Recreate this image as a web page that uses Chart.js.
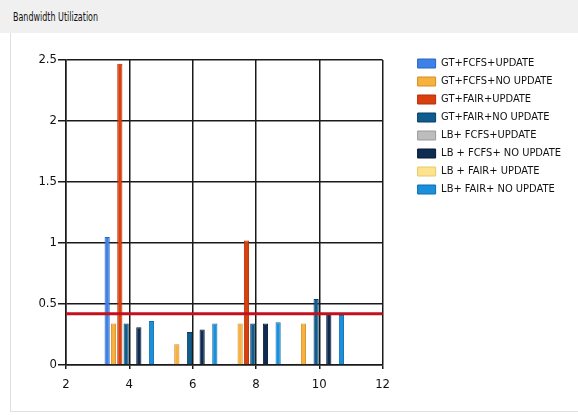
<!DOCTYPE html>
<html>
<head>
<meta charset="utf-8">
<script src="https://cdn.jsdelivr.net/npm/chart.js@4"></script>
<style>
  body { margin: 0; width: 578px; height: 415px; background: #ffffff; overflow: hidden; position: relative;
         font-family: 'DejaVu Sans', sans-serif; font-stretch: condensed; }
  #header { position: absolute; left: 0; top: 0; width: 578px; height: 33px; background: #f0f0f0; }
  #title { position: absolute; left: 13px; top: 9px; font-size: 12.5px; color: #111; white-space: nowrap;
           transform: scaleX(0.71); transform-origin: left top; }
  #panel { position: absolute; left: 10px; top: 33px; width: 568px; height: 378px;
           border-left: 1px solid #e0e0e0; border-bottom: 1px solid #e0e0e0; background: #fff; }
  #wrap { position: absolute; left: 1px; top: 0; width: 567px; height: 378px; }
</style>
</head>
<body>
<div id="header"><div id="title">Bandwidth Utilization</div></div>
<div id="panel"><div id="wrap"><canvas id="myChart"></canvas></div></div>
<script>
const categories = ['2', '4', '6', '8', '10', '12'];
const seriesNames = [
    'GT+FCFS+UPDATE',
    'GT+FCFS+NO UPDATE',
    'GT+FAIR+UPDATE',
    'GT+FAIR+NO UPDATE',
    'LB+ FCFS+UPDATE',
    'LB + FCFS+ NO UPDATE',
    'LB + FAIR+ UPDATE',
    'LB+ FAIR+ NO UPDATE'
];
const gtFcfsUpdate   = [null, 1.05, 0.01, 0.01, 0.01, null];
const gtFcfsNoUpdate = [null, 0.34, 0.17, 0.34, 0.34, null];
const gtFairUpdate   = [null, 2.47, 0.01, 1.02, 0.01, null];
const gtFairNoUpdate = [null, 0.34, 0.27, 0.34, 0.54, null];
const lbFcfsUpdate   = [null, 0, 0, 0, 0, null];
const lbFcfsNoUpdate = [null, 0.31, 0.29, 0.34, 0.42, null];
const lbFairUpdate   = [null, 0, 0, 0, 0, null];
const lbFairNoUpdate = [null, 0.36, 0.34, 0.35, 0.41, null];
const threshold      = [0.42, 0.42, 0.42, 0.42, 0.42, 0.42];
const yTicks = [0, 0.5, 1, 1.5, 2, 2.5];

const seriesValues = [gtFcfsUpdate, gtFcfsNoUpdate, gtFairUpdate, gtFairNoUpdate,
                      lbFcfsUpdate, lbFcfsNoUpdate, lbFairUpdate, lbFairNoUpdate];
const fills   = ['#3d82e8', '#f7b13e', '#d9400e', '#0f5d8e', '#bdbdbd', '#0e2b52', '#fde38e', '#1a8fdb'];
const borders = ['#2a64c0', '#d58e22', '#b52e05', '#083f63', '#999999', '#061a33', '#e8c96a', '#0f6fae'];

const FONT_FAMILY = "'DejaVu Sans', sans-serif";

// canvas ignores font-stretch inside the font string, so set it before every text call
['fillText', 'measureText'].forEach(name => {
    const orig = CanvasRenderingContext2D.prototype[name];
    CanvasRenderingContext2D.prototype[name] = function (...args) {
        this.fontStretch = 'condensed';
        return orig.apply(this, args);
    };
});

function init() {
    const datasets = seriesValues.map((vals, i) => ({
        type: 'bar',
        label: seriesNames[i],
        data: vals,
        backgroundColor: fills[i],
        borderColor: borders[i],
        borderWidth: 1,
        borderSkipped: 'start',
        categoryPercentage: 0.8,
        barPercentage: 0.82
    }));
    datasets.push({
        type: 'line',
        label: 'threshold',
        data: threshold,
        borderColor: '#c4101c',
        borderWidth: 3,
        pointRadius: 0,
        fill: false,
        order: -1
    });

    const ctx = document.getElementById('myChart').getContext('2d');
    new Chart(ctx, {
        type: 'bar',
        data: { labels: categories, datasets: datasets },
        options: {
            responsive: true,
            maintainAspectRatio: false,
            animation: false,
            layout: { padding: { left: 20, top: 18, right: 8, bottom: 6 } },
            plugins: {
                tooltip: { enabled: false },
                legend: {
                    position: 'right',
                    align: 'start',
                    maxWidth: 300,
                    labels: {
                        filter: item => item.text !== 'threshold',
                        boxWidth: 18,
                        boxHeight: 9,
                        padding: 7,
                        color: '#111',
                        font: { family: FONT_FAMILY, size: 11 }
                    }
                }
            },
            scales: {
                x: {
                    offset: false,
                    grid: { offset: false, color: '#1a1a1a', lineWidth: 1.5, tickLength: 4 },
                    border: { color: '#1a1a1a', width: 1.5 },
                    ticks: { color: '#111', padding: 8, maxRotation: 0,
                             font: { family: FONT_FAMILY, size: 13 } },
                    afterFit: s => { s.height = 40; }
                },
                topGap: {
                    type: 'category',
                    position: 'top',
                    display: true,
                    grid: { display: false },
                    border: { display: false },
                    ticks: { display: false },
                    afterFit: s => { s.height = 9; }
                },
                y: {
                    min: 0,
                    max: 2.5,
                    afterBuildTicks: s => { s.ticks = yTicks.map(v => ({ value: v })); },
                    grid: { color: '#1a1a1a', lineWidth: 1.5, tickLength: 8 },
                    border: { color: '#1a1a1a', width: 1.5 },
                    ticks: { color: '#111', padding: 1, callback: v => String(v),
                             font: { family: FONT_FAMILY, size: 13 } },
                    afterFit: s => { s.width = 34; }
                },
                gap: {
                    position: 'right',
                    display: true,
                    grid: { display: false },
                    border: { display: false },
                    ticks: { display: false },
                    afterFit: s => { s.width = 28; }
                }
            }
        }
    });
}

window.addEventListener('DOMContentLoaded', init);
</script>
</body>
</html>
